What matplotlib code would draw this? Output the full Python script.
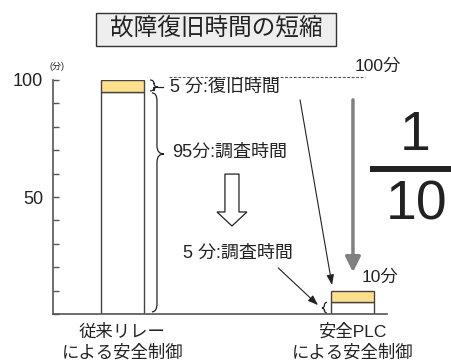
import matplotlib.pyplot as plt
from matplotlib.path import Path
from matplotlib.patches import PathPatch, Rectangle, FancyArrow
from matplotlib.lines import Line2D

plt.rcParams['font.family'] = ['Liberation Sans', 'Noto Sans CJK JP']

# 復旧時間の内訳（分）
categories = ['従来リレー\nによる安全制御', '安全PLC\nによる安全制御']
investigate = [95, 5]   # 調査時間
restore = [5, 5]        # 復旧時間
totals = [i + r for i, r in zip(investigate, restore)]

ink = '#222222'
edge = '#444444'
yellow = '#FFDF8A'

fig = plt.figure(figsize=(4.52, 3.62), dpi=100)
ax = fig.add_axes([53 / 452, 48 / 362, 334 / 452, 234 / 362])

x = range(len(categories))
ax.bar(x, investigate, width=0.187, color='white', edgecolor=edge, linewidth=1)
ax.bar(x, restore, bottom=investigate, width=0.187, color=yellow,
       edgecolor=edge, linewidth=1)

ax.set_xlim(-0.302, 1.15)
ax.set_ylim(0, 100)
for s in ['top', 'right']:
    ax.spines[s].set_visible(False)
for s in ['left', 'bottom']:
    ax.spines[s].set_color('#555555')
    ax.spines[s].set_linewidth(1.2)

ax.set_xticks(list(x))
ax.set_xticklabels(categories, fontsize=12.5, color=ink, linespacing=1.35)
ax.tick_params(axis='x', length=0, pad=7)
yt = list(range(0, 101, 10))
ax.set_yticks(yt)
ax.set_yticklabels(['50' if v == 50 else '100' if v == 100 else '' for v in yt],
                   fontsize=13, color=ink)
ax.tick_params(axis='y', direction='in', length=4, width=1, color='#555555', pad=7)
ax.text(-0.318, 106, '(分)', fontsize=6.5, color=ink, va='center', clip_on=False)


def brace(x_end, x_mid, x_tip, y_bot, y_top, y_tip, r):
    verts = [(x_end, y_top), (x_mid, y_top), (x_mid, y_top - r),
             (x_mid, y_tip + r), (x_mid, y_tip), (x_tip, y_tip),
             (x_mid, y_tip), (x_mid, y_tip - r),
             (x_mid, y_bot + r), (x_mid, y_bot), (x_end, y_bot)]
    codes = [Path.MOVETO, Path.CURVE3, Path.CURVE3,
             Path.LINETO, Path.CURVE3, Path.CURVE3,
             Path.CURVE3, Path.CURVE3,
             Path.LINETO, Path.CURVE3, Path.CURVE3]
    ax.add_patch(PathPatch(Path(verts, codes), fill=False, ec=ink, lw=0.9,
                           clip_on=False))


# 従来リレー側の内訳
brace(0.120, 0.137, 0.154, investigate[0] + 0.3, totals[0], 97.0, 1.6)
ax.plot([0.154, 0.176], [97.0, 97.0], color=ink, lw=0.9)
ax.text(0.207, 97.0, '5 分:復旧時間', fontsize=13, color=ink, va='center')
brace(0.128, 0.150, 0.180, 0.9, investigate[0] - 0.5, 68.4, 3.5)
ax.text(0.215, 69.2, '95分:調査時間', fontsize=13, color=ink, va='center')

ax.add_patch(FancyArrow(0.476, 59.8, 0, -22.2, width=0.061, head_width=0.13,
                        head_length=6, length_includes_head=True,
                        fc='white', ec=ink, lw=0.9))

# 安全PLC側
ax.text(0.263, 26.1, '5 分:調査時間', fontsize=13, color=ink, va='center')
ax.annotate('', xy=(0.850, 3.8), xytext=(0.677, 19.7),
            arrowprops=dict(arrowstyle='-|>,head_length=0.6,head_width=0.22',
                            mutation_scale=10, color=ink, lw=0.8,
                            shrinkA=0, shrinkB=0))
ax.annotate('', xy=(0.911, totals[1] + 2.4), xytext=(0.772, 91.5),
            arrowprops=dict(arrowstyle='-|>,head_length=0.6,head_width=0.22',
                            mutation_scale=10, color=ink, lw=0.8,
                            shrinkA=0, shrinkB=0))
brace(0.889, 0.878, 0.867, 0.4, investigate[1], 2.6, 1.2)

ax.plot([0.202, 1.054], [totals[0] + 1.3] * 2, color='#555555', lw=0.8,
        ls=(0, (2.5, 1.5)), clip_on=False)
ax.text(1.011, 106, f'{totals[0]}分', fontsize=12.5, color=ink, va='center',
        clip_on=False)
ax.annotate('', xy=(1.002, 17.9), xytext=(1.002, 91.5),
            arrowprops=dict(arrowstyle='-|>,head_length=0.6,head_width=0.3',
                            mutation_scale=15, color='#808080', lw=2.5,
                            shrinkA=0, shrinkB=0))
ax.text(1.041, 15.8, f'{totals[1]}分', fontsize=12.5, color=ink, va='center',
        clip_on=False)

# タイトル枠
fig.patches.append(Rectangle((96 / 452, 1 - 46 / 362), 240 / 452, 33 / 362,
                             transform=fig.transFigure, fc='#eeeeee',
                             ec='#333333', lw=1))
fig.text(216 / 452, 1 - 29.5 / 362, '故障復旧時間の短縮', fontsize=17,
         color=ink, ha='center', va='center')

# 1/10
fig.text(415 / 452, 1 - 136.5 / 362, '1', fontsize=40, color=ink,
         ha='center', va='center')
fig.text(417 / 452, 1 - 205 / 362, '10', fontsize=40, color=ink,
         ha='center', va='center')
fig.add_artist(Line2D([373 / 452, 1.0], [1 - 169.5 / 362] * 2, lw=4.3,
                      color=ink, transform=fig.transFigure))

fig.savefig('out.png', dpi=100)
